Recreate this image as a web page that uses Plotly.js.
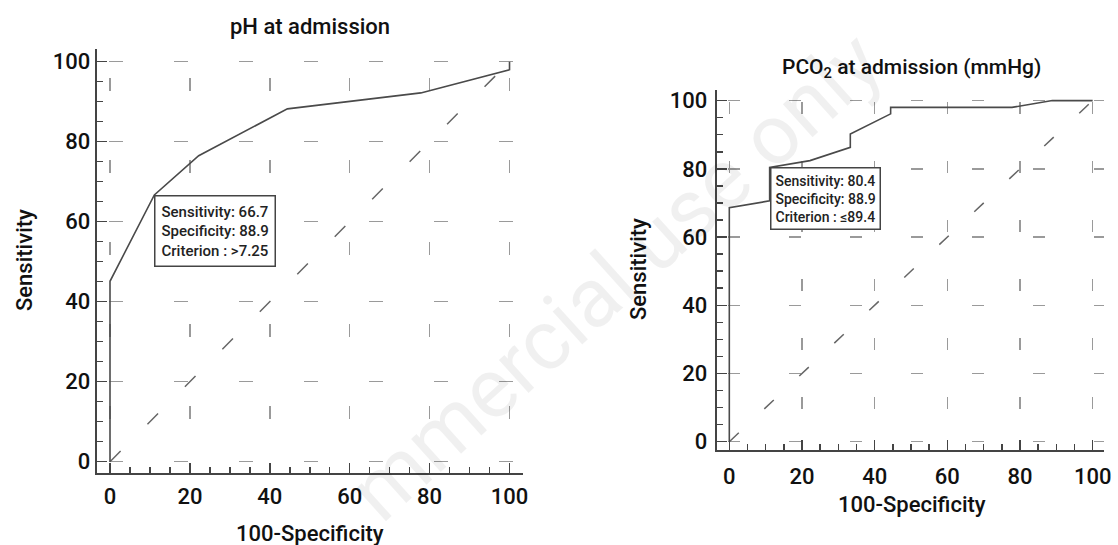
<!DOCTYPE html>
<html>
<head>
<meta charset="utf-8">
<script src="https://cdn.plot.ly/plotly-3.0.1.min.js"></script>
<style>
html,body{margin:0;padding:0;background:#fff;}
#chart{width:1118px;height:545px;}
</style>
</head>
<body>
<div id="chart"></div>
<script>
// ---- data ----
const tickVals = [0, 20, 40, 60, 80, 100];
const diagX = [0, 100];
const diagY = [0, 100];

// pH at admission ROC curve (100-Specificity, Sensitivity)
const phFpr  = [0, 0, 11.1, 22.2, 44.4, 77.8, 100, 100];
const phSens = [0, 45.1, 66.7, 76.5, 88.2, 92.2, 98.0, 100];
const phOptimal = [66.7, 88.9];          // sensitivity, specificity
const phCriterion = ">7.25";

// PCO2 at admission ROC curve
const pcoFpr  = [0, 0, 11.1, 11.1, 22.2, 33.3, 33.3, 44.4, 44.4, 77.8, 88.9, 100];
const pcoSens = [0, 68.6, 70.6, 80.4, 82.4, 86.3, 90.2, 96.1, 98.0, 98.0, 100, 100];
const pcoOptimal = [80.4, 88.9];
const pcoCriterion = "≤89.4";

const titles = ["pH at admission", "PCO<sub>2</sub> at admission (mmHg)"];
const xTitle = "100-Specificity";
const yTitle = "Sensitivity";
const watermark = "mmercial use only";

// ---- styling ----
const W = 1118, H = 545;
const px = v => v / W;
const py = v => 1 - v / H;
const curveColor = '#4a4a4a';
const axisColor = '#444';
const gridColor = '#9a9a9a';
const textFont = (size) => ({family: 'Roboto', size: size, color: '#111', weight: 500});

function axisBase(extra) {
  return Object.assign({
    tickvals: tickVals,
    ticks: 'inside', ticklen: 10, tickwidth: 1.5, tickcolor: axisColor,
    showline: true, linecolor: axisColor, linewidth: 2,
    showgrid: true, gridcolor: gridColor, gridwidth: 1.5,
    zeroline: false, fixedrange: true,
    minor: {dtick: 5, tick0: 0, ticks: 'inside', ticklen: 6, tickwidth: 1.5, tickcolor: axisColor, showgrid: false},
    tickfont: textFont(22)
  }, extra);
}

const traces = [
  {x: diagX, y: diagY, xaxis: 'x', yaxis: 'y', mode: 'lines',
   line: {color: '#666', width: 1.5, dash: '15px,38px'}, hoverinfo: 'skip'},
  {x: phFpr, y: phSens, xaxis: 'x', yaxis: 'y', mode: 'lines',
   line: {color: curveColor, width: 1.6}},
  {x: diagX, y: diagY, xaxis: 'x2', yaxis: 'y2', mode: 'lines',
   line: {color: '#666', width: 1.5, dash: '13px,35px'}, hoverinfo: 'skip'},
  {x: pcoFpr, y: pcoSens, xaxis: 'x2', yaxis: 'y2', mode: 'lines',
   line: {color: curveColor, width: 1.6}}
];

function boxText(opt, crit) {
  return 'Sensitivity: ' + opt[0] + '<br>Specificity: ' + opt[1] + '<br>Criterion : ' + crit;
}

const layout = {
  width: W, height: H,
  margin: {l: 0, r: 0, t: 0, b: 0},
  paper_bgcolor: '#fff', plot_bgcolor: 'rgba(0,0,0,0)',
  showlegend: false,
  font: {family: 'Roboto', color: '#111'},
  xaxis: axisBase({domain: [px(96.7), px(522.7)], range: [-3.33, 103.3], anchor: 'y',
    griddash: '0px,29px,13px,40px', ticklabelstandoff: 2}),
  yaxis: axisBase({domain: [py(473.3), py(49.3)], range: [-2.9, 103.1], anchor: 'x',
    griddash: '0px,12px,14px,39px', ticklabelstandoff: 0}),
  xaxis2: axisBase({domain: [px(716.7), px(1104.3)], range: [-3.47, 103.2], anchor: 'y2',
    griddash: '0px,12px,12px,35px', ticklabelstandoff: 6}),
  yaxis2: axisBase({domain: [py(450), py(90)], range: [-2.43, 103.1], anchor: 'x2',
    griddash: '0px,11px,12px,38px', ticklabelstandoff: 3}),
  annotations: [
    {xref: 'paper', yref: 'paper', x: px(615), y: py(276), text: watermark, showarrow: false,
     textangle: -42, font: {family: 'Roboto', size: 84, color: 'rgba(0,0,0,0.06)'},
     xanchor: 'center', yanchor: 'middle'},
    {xref: 'paper', yref: 'paper', x: px(310), y: py(26), text: titles[0], showarrow: false,
     font: textFont(22), xanchor: 'center', yanchor: 'middle'},
    {xref: 'paper', yref: 'paper', x: px(911), y: py(69), text: titles[1], showarrow: false,
     font: textFont(21), xanchor: 'center', yanchor: 'middle'},
    {xref: 'paper', yref: 'paper', x: px(310), y: py(533), text: xTitle, showarrow: false,
     font: textFont(22), xanchor: 'center', yanchor: 'middle'},
    {xref: 'paper', yref: 'paper', x: px(912), y: py(504), text: xTitle, showarrow: false,
     font: textFont(22), xanchor: 'center', yanchor: 'middle'},
    {xref: 'paper', yref: 'paper', x: px(24), y: py(260), text: yTitle, showarrow: false, textangle: -90,
     font: textFont(22), xanchor: 'center', yanchor: 'middle'},
    {xref: 'paper', yref: 'paper', x: px(638), y: py(269), text: yTitle, showarrow: false, textangle: -90,
     font: textFont(22), xanchor: 'center', yanchor: 'middle'},
    {xref: 'x', yref: 'y', x: 100 - phOptimal[1], y: phOptimal[0], text: boxText(phOptimal, phCriterion),
     showarrow: false, xanchor: 'left', yanchor: 'top', align: 'left',
     font: {size: 15, color: '#222', weight: 500}, bgcolor: '#fff', bordercolor: axisColor, borderwidth: 1.5, borderpad: 6},
    {xref: 'x2', yref: 'y2', x: 100 - pcoOptimal[1], y: pcoOptimal[0], text: boxText(pcoOptimal, pcoCriterion),
     showarrow: false, xanchor: 'left', yanchor: 'top', align: 'left',
     font: {size: 14, color: '#222', weight: 500}, bgcolor: '#fff', bordercolor: axisColor, borderwidth: 1.5, borderpad: 4}
  ]
};

Plotly.newPlot('chart', traces, layout, {displayModeBar: false, staticPlot: true});
</script>
</body>
</html>
